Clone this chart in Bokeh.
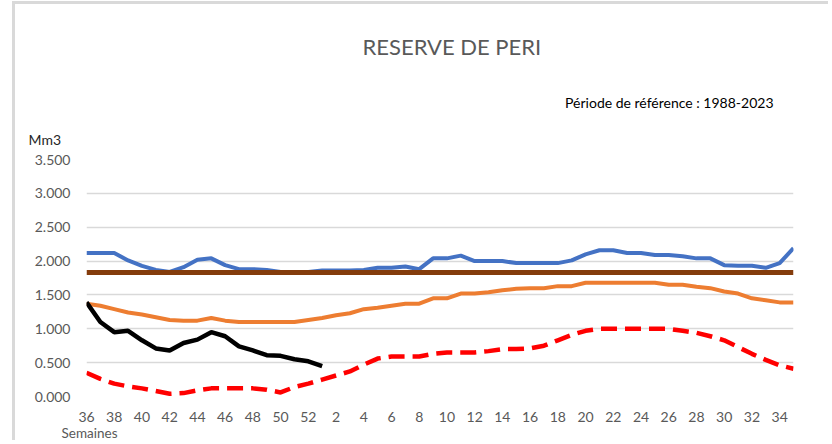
from bokeh.plotting import figure
from bokeh.models import Range1d, FixedTicker, NumeralTickFormatter, Title
from bokeh.embed import file_html
from bokeh.resources import INLINE

weeks = list(range(36, 53)) + list(range(1, 36))

maximum = [2.12, 2.12, 2.12, 2.01, 1.93, 1.87, 1.84, 1.91, 2.02, 2.04,
           1.94, 1.88, 1.88, 1.87, 1.84, 1.83, 1.84, 1.86, 1.86, 1.86,
           1.87, 1.90, 1.90, 1.92, 1.88, 2.04, 2.04, 2.08, 2.00, 2.00,
           2.00, 1.97, 1.97, 1.97, 1.97, 2.01, 2.10, 2.16, 2.16, 2.12,
           2.12, 2.09, 2.09, 2.07, 2.04, 2.04, 1.94, 1.93, 1.93, 1.90,
           1.97, 2.19]
moyenne = [1.37, 1.34, 1.29, 1.24, 1.21, 1.17, 1.13, 1.12, 1.12, 1.16,
           1.12, 1.10, 1.10, 1.10, 1.10, 1.10, 1.13, 1.16, 1.20, 1.23,
           1.29, 1.31, 1.34, 1.37, 1.37, 1.45, 1.45, 1.52, 1.52, 1.54,
           1.57, 1.59, 1.60, 1.60, 1.63, 1.63, 1.68, 1.68, 1.68, 1.68,
           1.68, 1.68, 1.65, 1.65, 1.62, 1.60, 1.55, 1.52, 1.45, 1.42,
           1.39, 1.39]
minimum = [0.35, 0.26, 0.19, 0.15, 0.12, 0.08, 0.04, 0.05, 0.09, 0.12,
           0.12, 0.12, 0.12, 0.10, 0.06, 0.14, 0.19, 0.25, 0.31, 0.37,
           0.47, 0.56, 0.59, 0.59, 0.59, 0.63, 0.65, 0.65, 0.65, 0.67,
           0.70, 0.70, 0.71, 0.75, 0.83, 0.91, 0.97, 1.00, 1.00, 1.00,
           1.00, 1.00, 1.00, 0.97, 0.94, 0.89, 0.83, 0.73, 0.63, 0.54,
           0.46, 0.41]
seuil = [1.83] * 52
actuel = [1.39, 1.10, 0.95, 0.97, 0.83, 0.71, 0.68, 0.79, 0.84, 0.95,
          0.89, 0.74, 0.68, 0.61, 0.60, 0.55, 0.52, 0.45]

y_ticks = [0.0, 0.5, 1.0, 1.5, 2.0, 2.5, 3.0, 3.5]

idx = list(range(len(weeks)))

p = figure(width=816, height=439, output_backend="svg", toolbar_location=None,
           x_range=Range1d(0, 51), y_range=Range1d(0, 3.5),
           min_border_left=71, min_border_right=38, min_border_top=155, min_border_bottom=47,
           styles={"border-left": "3px solid #d9d9d9", "border-top": "3px solid #d9d9d9",
                   "margin-left": "12px", "margin-top": "1px"})
p.outline_line_color = None
p.background_fill_color = "white"
p.border_fill_color = "white"

p.xaxis.ticker = FixedTicker(ticks=[i for i in idx if i % 2 == 0])
p.xaxis.major_label_overrides = {i: str(weeks[i]) for i in idx if i % 2 == 0}
p.yaxis.ticker = FixedTicker(ticks=y_ticks)
p.yaxis.formatter = NumeralTickFormatter(format="0.000")
for ax in (p.xaxis, p.yaxis):
    ax.axis_line_color = None
    ax.major_tick_line_color = None
    ax.minor_tick_line_color = None
    ax.major_label_text_color = "#595959"
    ax.major_label_text_font = "Lato"
    ax.major_label_text_font_size = "14px"
p.yaxis.major_label_standoff = 10
p.xaxis.major_label_standoff = 9
p.xgrid.grid_line_color = None
p.ygrid.grid_line_color = "#d9d9d9"
p.ygrid.grid_line_width = 1.5

p.line(idx, moyenne, line_color="#ED7D31", line_width=4)
p.line(idx, minimum, line_color="#FF0000", line_width=4.5, line_dash="16 8")
p.line(idx, maximum, line_color="#4472C4", line_width=4)
p.line(idx, seuil, line_color="#843C0C", line_width=5)
p.line(list(range(len(actuel))), actuel, line_color="#000000", line_width=4.5)

t_mm3 = Title(text="Mm3", align="left", offset=-58, standoff=23,
              text_font="Lato", text_font_size="14px", text_font_style="normal",
              text_color="#262626")
t_per = Title(text="Période de référence : 1988-2023", align="right", offset=20, standoff=14,
              text_font="Lato", text_font_size="14px", text_font_style="normal",
              text_color="#000000")
t_main = Title(text="RESERVE  DE PERI", align="left", offset=276, standoff=49,
               text_font="Lato", text_font_size="22px", text_font_style="normal",
               text_color="#595959")
p.title = None
p.add_layout(t_mm3, "above")
p.add_layout(t_per, "above")
p.add_layout(t_main, "above")

t_sem = Title(text="Semaines", align="left", offset=-25, standoff=0, vertical_align="top",
              text_font="Lato", text_font_size="13.5px", text_font_style="normal",
              text_color="#595959")
p.add_layout(t_sem, "below")

open("out.html", "w").write(file_html(p, INLINE))
